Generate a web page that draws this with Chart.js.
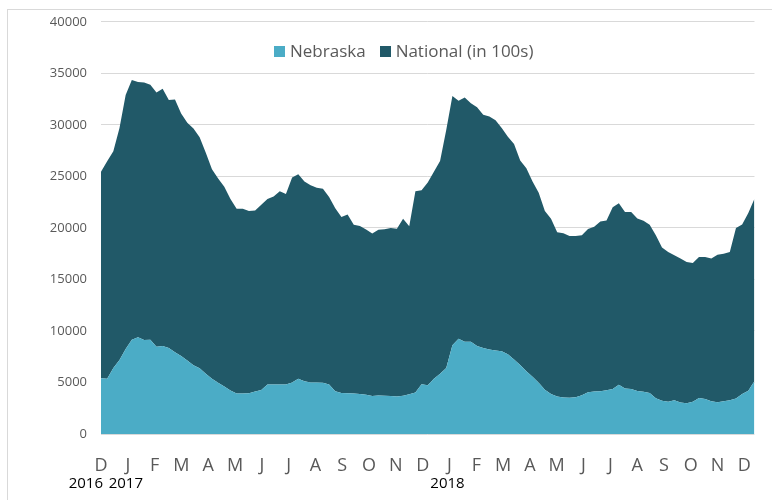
<!DOCTYPE html>
<html>
<head>
<meta charset="utf-8">
<script src="https://cdn.jsdelivr.net/npm/chart.js@4.4.1/dist/chart.umd.min.js"></script>
<style>
  html, body { margin: 0; padding: 0; background: #fff; }
  #wrap { position: relative; width: 772px; height: 500px; overflow: hidden; }
  #frame { position: absolute; left: 7px; top: 9px; width: 800px; height: 520px;
           border-left: 1px solid #d9d9d9; border-top: 1px solid #d9d9d9; }
  canvas { position: absolute; left: 0; top: 0; }
  #legend { position: absolute; left: 274px; top: 40px; display: flex; align-items: center;
            font: 17px "Open Sans", sans-serif; color: #595959; line-height: 22px; }
  #legend .item { display: flex; align-items: center; margin-right: 14px; }
  #legend .box { width: 11px; height: 11px; margin-right: 5px; }
</style>
</head>
<body>
<div id="wrap">
  <div id="frame"></div>
  <canvas id="claimsChart" width="772" height="500"></canvas>
  <div id="legend"></div>
</div>
<script>
// weekly continued claims, Dec 2016 - Dec 2018
var monthLabels = ["D","J","F","M","A","M","J","J","A","S","O","N",
                   "D","J","F","M","A","M","J","J","A","S","O","N","D"];
var yearMonths = [0, 1, 13];
var yearTexts = ["2016", "2017", "2018"];

var nebraska = [
  5400, 5350, 6400, 7180, 8250, 9150, 9400, 9120, 9150, 8460,
  8540, 8350, 7940, 7560, 7140, 6680, 6370, 5850, 5350, 4980,
  4620, 4210, 3940, 3940, 3960, 4120, 4280, 4800, 4810, 4810,
  4810, 5000, 5370, 5120, 5000, 5000, 4980, 4800, 4160, 3980,
  3960, 3940, 3890, 3810, 3680, 3730, 3720, 3690, 3650, 3700,
  3850, 4020, 4830, 4720, 5360, 5840, 6400, 8620, 9250, 8950,
  8950, 8550, 8350, 8200, 8100, 8030, 7740, 7230, 6700, 6080,
  5550, 4970, 4300, 3880, 3650, 3540, 3520, 3570, 3760, 4040,
  4130, 4150, 4250, 4360, 4790, 4420, 4360, 4180, 4110, 3990,
  3460, 3220, 3130, 3270, 3060, 2980, 3130, 3500, 3390, 3170,
  3080, 3170, 3270, 3450, 3870, 4200, 5150
];

var national = [
  20050, 21120, 21050, 22520, 24650, 25200, 24750, 24980, 24750, 24690,
  24960, 24050, 24510, 23540, 23060, 22970, 22430, 21450, 20350, 19820,
  19380, 18590, 17910, 17910, 17690, 17580, 17970, 18000, 18240, 18740,
  18490, 19900, 19830, 19380, 19150, 18900, 18820, 18200, 17740, 17070,
  17340, 16360, 16290, 16040, 15770, 16100, 16140, 16300, 16270, 17200,
  16300, 19530, 18820, 19680, 20090, 20660, 23100, 24180, 23100, 23700,
  23150, 23150, 22630, 22600, 22350, 21670, 21110, 20920, 19850, 19720,
  18950, 18430, 17350, 17020, 15930, 15940, 15690, 15640, 15520, 15860,
  15970, 16470, 16480, 17640, 17610, 17120, 17190, 16740, 16590, 16310,
  15820, 14880, 14520, 14080, 13960, 13700, 13470, 13670, 13780, 13860,
  14320, 14330, 14380, 16550, 16450, 17250, 17680
];

var weeksPerMonth = 30.4375 / 7;

function toPoints(arr) {
  return arr.map(function (v, i) { return { x: i, y: v }; });
}

Chart.defaults.font.family = '"Open Sans", sans-serif';

// draw the year row under the month letters
var yearRow = {
  id: 'yearRow',
  afterDraw: function (chart) {
    var xs = chart.scales.x, c = chart.ctx;
    c.save();
    c.font = '15px "Open Sans", sans-serif';
    c.fillStyle = '#000';
    c.textBaseline = 'middle';
    yearTexts.forEach(function (t, k) {
      var px = xs.getPixelForValue(yearMonths[k] * weeksPerMonth);
      if (k === 0) {
        c.textAlign = 'right';
        c.fillText(t, px + 2, 484);
      } else {
        c.textAlign = 'center';
        c.fillText(t, px - 2, 484);
      }
    });
    c.restore();
  }
};

var ctx = document.getElementById('claimsChart');
var claimsChart = new Chart(ctx, {
  type: 'line',
  plugins: [yearRow],
  data: {
    datasets: [{
      label: "Nebraska",
      data: toPoints(nebraska),
      backgroundColor: "#4bacc6",
      borderColor: "#4bacc6",
      borderWidth: 0,
      pointRadius: 0,
      fill: 'origin'
    }, {
      label: "National (in 100s)",
      data: toPoints(national),
      backgroundColor: "#215968",
      borderColor: "#215968",
      borderWidth: 0,
      pointRadius: 0,
      fill: '-1'
    }]
  },
  options: {
    responsive: false,
    animation: false,
    layout: { padding: { top: 21, right: 8, left: 0, bottom: 0 } },
    plugins: {
      tooltip: { enabled: false },
      legend: { display: false }
    },
    scales: {
      x: {
        type: 'linear',
        min: 0,
        max: nebraska.length - 1,
        grid: { display: false, drawTicks: false },
        border: { display: false },
        afterBuildTicks: function (axis) {
          axis.ticks = monthLabels.map(function (l, m) { return { value: m * weeksPerMonth }; });
        },
        ticks: {
          autoSkip: false,
          maxRotation: 0,
          padding: 21,
          color: '#595959',
          font: { size: 18 },
          callback: function (v, i) { return monthLabels[i]; }
        },
        afterFit: function (axis) { axis.height = 66; }
      },
      y: {
        stacked: true,
        min: 0,
        max: 40000,
        grid: { color: '#d9d9d9', drawTicks: false },
        border: { display: false },
        ticks: {
          stepSize: 5000,
          padding: 14,
          color: '#595959',
          font: { size: 13 },
          callback: function (v) { return String(v); }
        },
        afterFit: function (axis) { axis.width = 101; }
      }
    }
  }
});

// html legend built from the datasets
var legendEl = document.getElementById('legend');
claimsChart.data.datasets.forEach(function (ds) {
  var item = document.createElement('span');
  item.className = 'item';
  var box = document.createElement('span');
  box.className = 'box';
  box.style.background = ds.backgroundColor;
  item.appendChild(box);
  item.appendChild(document.createTextNode(ds.label));
  legendEl.appendChild(item);
});
</script>
</body>
</html>
